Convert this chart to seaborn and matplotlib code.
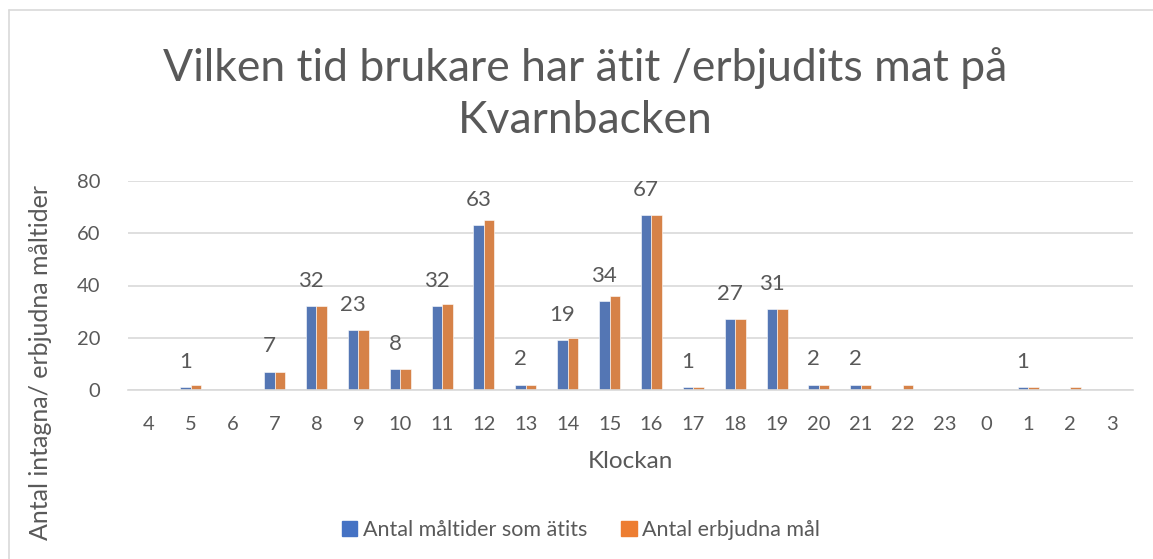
import pandas as pd
import matplotlib.pyplot as plt
import seaborn as sns
from matplotlib.lines import Line2D

# hours of the day, as they appear on the x axis
hours = ['4', '5', '6', '7', '8', '9', '10', '11', '12', '13', '14', '15',
         '16', '17', '18', '19', '20', '21', '22', '23', '0', '1', '2', '3']
eaten = [0, 1, 0, 7, 32, 23, 8, 32, 63, 2, 19, 34,
         67, 1, 27, 31, 2, 2, 0, 0, 0, 1, 0, 0]
offered = [0, 2, 0, 7, 32, 23, 8, 33, 65, 2, 20, 36,
           67, 1, 27, 31, 2, 2, 2, 0, 0, 1, 1, 0]
series = ['Antal måltider som ätits', 'Antal erbjudna mål']

df = pd.DataFrame({
    'Klockan': hours * 2,
    'value': eaten + offered,
    'serie': [series[0]] * len(hours) + [series[1]] * len(hours),
})

sns.set_style('white')
plt.rcParams['font.family'] = ['Lato', 'DejaVu Sans']
txt = '#595959'

fig = plt.figure(figsize=(11.53, 5.59), dpi=100)
ax = fig.add_axes([128 / 1153, 1 - 390 / 559, 1005 / 1153, 209 / 559])

sns.barplot(data=df, x='Klockan', y='value', hue='serie', order=hours,
            palette=['#4472C4', '#ED7D31'], width=0.5, ax=ax,
            edgecolor='white', linewidth=0.4, legend=False)

ax.set_ylim(0, 80)
ax.set_xlim(-0.5, len(hours) - 0.5)
ax.set_yticks([0, 20, 40, 60, 80])
ax.yaxis.grid(True, color='#D9D9D9', linewidth=1.2)
ax.set_axisbelow(True)
for s in ['top', 'right', 'left']:
    ax.spines[s].set_visible(False)
ax.spines['bottom'].set_color('#D9D9D9')
ax.spines['bottom'].set_linewidth(1.2)
ax.tick_params(axis='both', length=0, labelsize=14.5, colors=txt)
ax.tick_params(axis='x', pad=19)
ax.tick_params(axis='y', pad=20)
ax.set_xlabel('Klockan', fontsize=17.5, color=txt, labelpad=13)
ax.set_ylabel('')

# data labels on the first series only
blue_bars = ax.containers[0]
for bar, v in zip(blue_bars, eaten):
    if v > 0:
        ax.annotate(str(v), (bar.get_x() + bar.get_width() / 2, bar.get_height()),
                    xytext=(0, 11), textcoords='offset points', ha='center',
                    va='bottom', fontsize=16, color=txt)

fig.text(585 / 1153, 1 - 94 / 559, 'Vilken tid brukare har ätit /erbjudits mat på\nKvarnbacken',
         ha='center', va='center', fontsize=32, color=txt, linespacing=1.35)
fig.text(41 / 1153, 1 - 363 / 559, 'Antal intagna/ erbjudna måltider', rotation=90,
         ha='center', va='center', fontsize=18, color=txt)

handles = [plt.Rectangle((0, 0), 1, 1, color=c) for c in ['#4472C4', '#ED7D31']]
fig.legend(handles, series, loc='center', bbox_to_anchor=(581 / 1153, 1 - 530 / 559),
           ncol=2, frameon=False, fontsize=15.5, labelcolor=txt, handlelength=0.7,
           handleheight=0.7, handletextpad=0.25, columnspacing=1.6)

# chart border (top and left edges are visible)
fig.add_artist(Line2D([8.5 / 1153, 8.5 / 1153], [0, 1 - 9.5 / 559], color='#D9D9D9', lw=1.2))
fig.add_artist(Line2D([8.5 / 1153, 1], [1 - 9.5 / 559, 1 - 9.5 / 559], color='#D9D9D9', lw=1.2))

fig.savefig('out.png', dpi=100, facecolor='white')
